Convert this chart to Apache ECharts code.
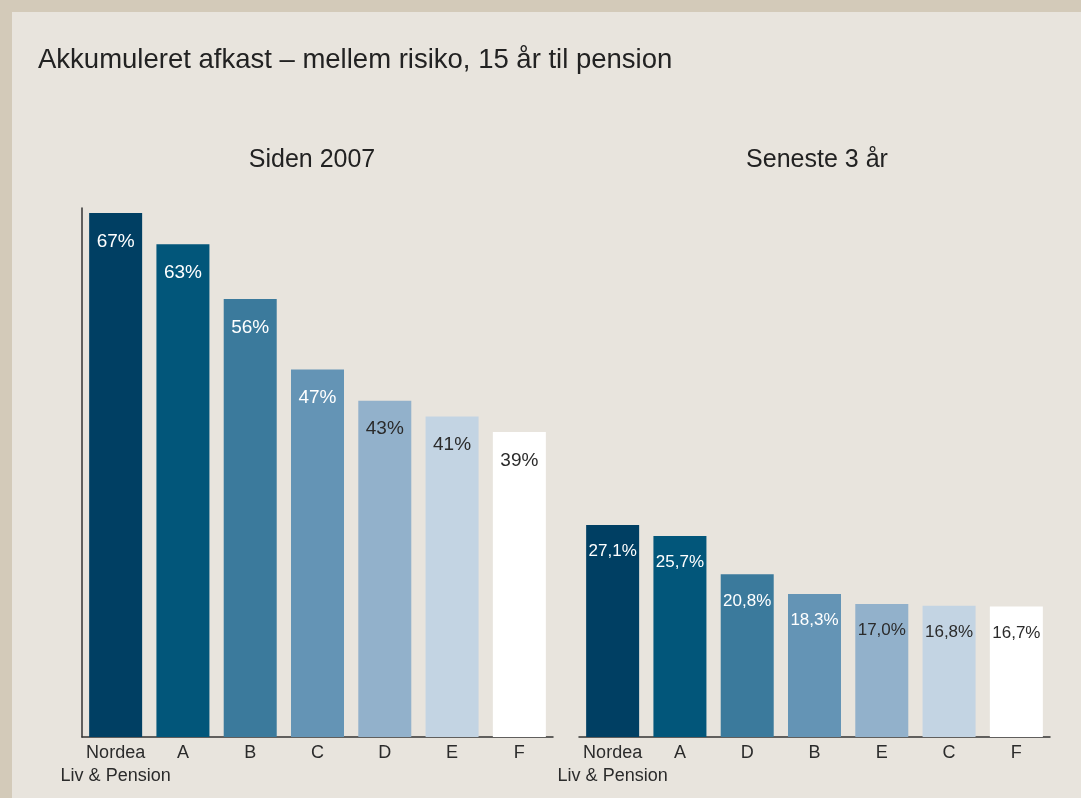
<!DOCTYPE html>
<html><head><meta charset="utf-8">
<script src="https://cdn.jsdelivr.net/npm/echarts@6/dist/echarts.min.js"></script>
<style>html,body{margin:0;padding:0;background:#d3cab9;}#c{width:1081px;height:798px;}</style>
</head><body><div id="c"></div>
<script>
const title = 'Akkumuleret afkast – mellem risiko, 15 år til pension';
const leftTitle = 'Siden 2007';
const rightTitle = 'Seneste 3 år';
const leftCategories = ['Nordea\nLiv & Pension', 'A', 'B', 'C', 'D', 'E', 'F'];
const leftValues = [67, 63, 56, 47, 43, 41, 39];
const leftLabels = ['67%', '63%', '56%', '47%', '43%', '41%', '39%'];
const rightCategories = ['Nordea\nLiv & Pension', 'A', 'D', 'B', 'E', 'C', 'F'];
const rightValues = [27.1, 25.7, 20.8, 18.3, 17.0, 16.8, 16.7];
const rightLabels = ['27,1%', '25,7%', '20,8%', '18,3%', '17,0%', '16,8%', '16,7%'];

const barColors = ['#003f63', '#02567a', '#3b7a9c', '#6494b5', '#92b1cb', '#c3d4e3', '#ffffff'];
const labelColors = ['#ffffff', '#ffffff', '#ffffff', '#ffffff', '#2b2b2b', '#2b2b2b', '#2b2b2b'];
const rightLabelColors = ['#ffffff', '#ffffff', '#ffffff', '#ffffff', '#2b2b2b', '#2b2b2b', '#2b2b2b'];
const FONT = 'Liberation Sans, Arial, sans-serif';

function mkData(vals, labels, lcols, size) {
  return vals.map((v, i) => ({
    value: v,
    itemStyle: { color: barColors[i] },
    label: { formatter: labels[i], color: lcols[i], fontSize: size }
  }));
}

const chart = echarts.init(document.getElementById('c'));
const axisLine = { show: true, lineStyle: { color: '#333333', width: 1.5 } };
const xLabel = { fontFamily: FONT, fontSize: 18, color: '#2b2b2b', margin: 5, lineHeight: 23, interval: 0 };
chart.setOption({
  backgroundColor: 'transparent',
  animation: false,
  graphic: [{ type: 'rect', shape: { x: 12, y: 12, width: 1081, height: 798 }, style: { fill: '#e8e4dd' }, z: -10 }],
  title: [
    { text: title, left: 33, top: 41, padding: 5, textStyle: { fontFamily: FONT, fontSize: 27.5, fontWeight: 'normal', color: '#222' } },
    { text: leftTitle, left: 312, top: 148, textAlign: 'center', padding: 0, textStyle: { fontFamily: FONT, fontSize: 25, fontWeight: 'normal', color: '#222' } },
    { text: rightTitle, left: 817, top: 148, textAlign: 'center', padding: 0, textStyle: { fontFamily: FONT, fontSize: 25, fontWeight: 'normal', color: '#222' } }
  ],
  grid: [
    { left: 82, width: 471, top: 208, bottom: 61 },
    { left: 579, width: 471, top: 208, bottom: 61 }
  ],
  xAxis: [
    { type: 'category', gridIndex: 0, data: leftCategories, axisLine: axisLine, axisTick: { show: false }, axisLabel: xLabel },
    { type: 'category', gridIndex: 1, data: rightCategories, axisLine: axisLine, axisTick: { show: false }, axisLabel: xLabel }
  ],
  yAxis: [
    { type: 'value', gridIndex: 0, min: 0, max: 67.65, axisLine: axisLine, axisTick: { show: false }, axisLabel: { show: false }, splitLine: { show: false } },
    { type: 'value', gridIndex: 1, min: 0, max: 67.65, axisLine: { show: false }, axisTick: { show: false }, axisLabel: { show: false }, splitLine: { show: false } }
  ],
  series: [
    { type: 'bar', xAxisIndex: 0, yAxisIndex: 0, barWidth: 53, data: mkData(leftValues, leftLabels, labelColors, 19),
      label: { show: true, position: 'insideTop', distance: 19, fontFamily: FONT } },
    { type: 'bar', xAxisIndex: 1, yAxisIndex: 1, barWidth: 53, data: mkData(rightValues, rightLabels, rightLabelColors, 17),
      label: { show: true, position: 'insideTop', distance: 18, fontFamily: FONT } }
  ]
});
</script></body></html>
